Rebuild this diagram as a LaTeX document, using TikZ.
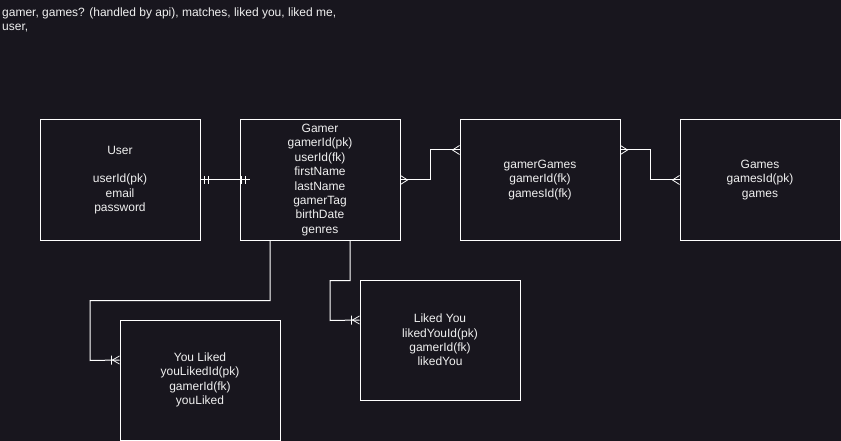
\documentclass[tikz,border=0pt]{standalone}
\usepackage{fontspec}
\setmainfont{Liberation Sans}
\usetikzlibrary{calc}
\definecolor{bg}{HTML}{18161E}
\definecolor{fg}{HTML}{F0F0F0}
\tikzset{
  ent/.style={draw=white, line width=1pt, minimum width=160pt, minimum height=120pt,
    inner sep=0pt, align=center, text=fg, font=\fontsize{12}{14.4}\selectfont},
  note/.style={anchor=base west, inner sep=0pt, text=fg, font=\fontsize{12}{14.4}\selectfont},
  rel/.style={draw=white, line width=1pt},
  crowfoot/.pic={\draw[white, line width=0.8pt] (0,-4.5) -- (7,0) -- (0,4.5);},
  mandone/.pic={\draw[white, line width=1pt] (4,-4) -- (4,4) (8,-4) -- (8,4);},
  onemany/.pic={\draw[white, line width=0.8pt] (0,-4) -- (7,0) -- (0,4) (8,-4.5) -- (8,4.5);}
}
\begin{document}
\begin{tikzpicture}[x=1pt, y=-1pt]
\fill[bg] (0,0) rectangle (841,441);
\useasboundingbox (0,0) rectangle (841,441);

\node[note] (note1) at (2,17) {gamer, games? (handled by api), matches, liked you, liked me,};
\node[note] (note2) at (2,31) {user,};

\node[ent] (user) at (120,180) {User\\[14.4pt]userId(pk)\\email\\password};
\node[ent] (gamer) at (320,180) {Gamer\\gamerId(pk)\\userId(fk)\\firstName\\lastName\\gamerTag\\birthDate\\genres};
\node[ent] (gg) at (540,180) {gamerGames\\gamerId(fk)\\gamesId(fk)};
\node[ent] (games) at (760,180) {Games\\gamesId(pk)\\games};
\node[ent] (likedyou) at (440,340) {Liked You\\likedYouId(pk)\\gamerId(fk)\\likedYou};
\node[ent] (youliked) at (200,380) {You Liked\\youLikedId(pk)\\gamerId(fk)\\youLiked};

% User -- Gamer
\draw[rel] (user.east) -- ($(gamer.west)+(10,0)$);
\pic at (user.east) {mandone};
\pic[rotate=180] at ($(gamer.west)+(10,0)$) {mandone};

% Gamer -- gamerGames
\draw[rel] (gamer.east) -- ++(30,0) |- ($(gg.west)+(0,-30)$);
\pic at (gamer.east) {crowfoot};
\pic[rotate=180] at ($(gg.west)+(0,-30)$) {crowfoot};

% gamerGames -- Games
\draw[rel] ($(gg.east)+(0,-30)$) -- ++(30,0) |- (games.west);
\pic at ($(gg.east)+(0,-30)$) {crowfoot};
\pic[rotate=180] at (games.west) {crowfoot};

% Gamer -- You Liked
\draw[rel] ($(gamer.south)+(-50,0)$) -- ++(0,60) -| ++(-180,60) -- ($(youliked.west)+(0,-20)$);
\pic[rotate=180] at ($(youliked.west)+(0,-20)$) {onemany};

% Gamer -- Liked You
\draw[rel] ($(gamer.south)+(30,0)$) -- ++(0,40) -| ++(-20,40) -- ($(likedyou.west)+(0,-20)$);
\pic[rotate=180] at ($(likedyou.west)+(0,-20)$) {onemany};
\end{tikzpicture}
\end{document}
